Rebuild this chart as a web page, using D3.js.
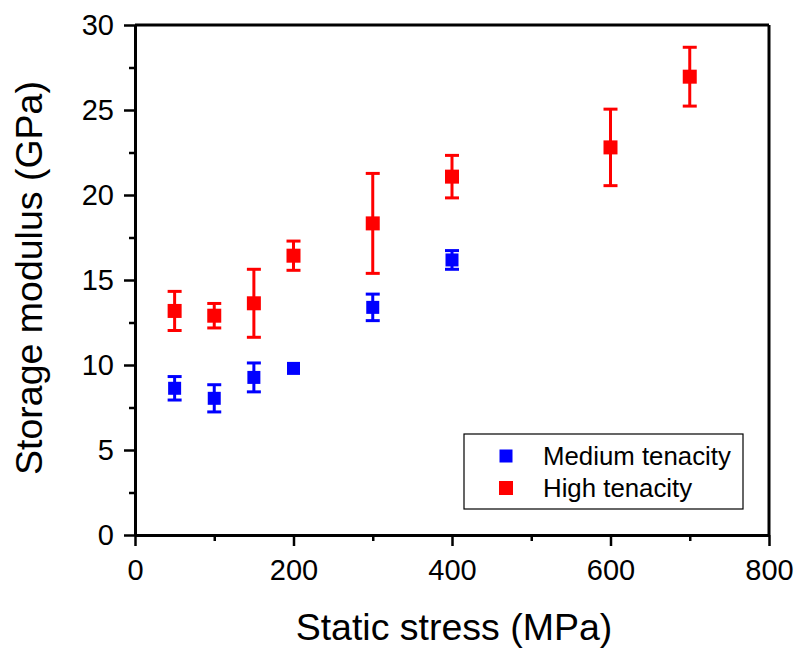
<!DOCTYPE html>
<html>
<head>
<meta charset="utf-8">
<script src="https://cdn.jsdelivr.net/npm/d3@7"></script>
<style>
  body { margin: 0; background: #fff; }
  svg text { font-family: "Liberation Sans", Arial, sans-serif; fill: #000; }
</style>
</head>
<body>
<svg id="chart" width="800" height="652"></svg>
<script>
// data
var mediumStress = [50, 100, 150, 200, 300, 400];
var mediumModulus = [8.63, 8.04, 9.27, 9.80, 13.39, 16.18];
var mediumErr = [0.69, 0.80, 0.85, 0, 0.78, 0.55];

var highStress = [50, 100, 150, 200, 300, 400, 600, 700];
var highModulus = [13.18, 12.90, 13.63, 16.43, 18.33, 21.08, 22.80, 26.96];
var highErr = [1.15, 0.72, 2.00, 0.86, 2.94, 1.25, 2.25, 1.73];

var xTicks = [0, 200, 400, 600, 800];
var xMinor = [100, 300, 500, 700];
var yTicks = [0, 5, 10, 15, 20, 25, 30];
var yMinor = [2.5, 7.5, 12.5, 17.5, 22.5, 27.5];

var seriesNames = ["Medium tenacity", "High tenacity"];
var seriesColors = ["#0000ff", "#ff0000"];

var margin = {left: 135, top: 25, right: 31, bottom: 117};
var svg = d3.select("#chart");
var width = 800 - margin.left - margin.right,
    height = 652 - margin.top - margin.bottom;

var x = d3.scaleLinear().domain([0, 800]).range([0, width]);
var y = d3.scaleLinear().domain([0, 30]).range([height, 0]);

var g = svg.append("g").attr("transform", "translate(" + margin.left + "," + margin.top + ")");

// minor ticks
g.append("g").attr("class", "axis")
  .attr("transform", "translate(0," + height + ")")
  .call(d3.axisBottom(x).tickValues(xMinor).tickSize(6).tickSizeOuter(0).tickFormat(""));
g.append("g").attr("class", "axis")
  .call(d3.axisLeft(y).tickValues(yMinor).tickSize(6).tickSizeOuter(0).tickFormat(""));

// major ticks
var xAxis = g.append("g").attr("class", "axis")
  .attr("transform", "translate(0," + height + ")")
  .call(d3.axisBottom(x).tickValues(xTicks).tickSize(11).tickSizeOuter(0).tickPadding(13));
var yAxis = g.append("g").attr("class", "axis")
  .call(d3.axisLeft(y).tickValues(yTicks).tickSize(11).tickSizeOuter(0).tickPadding(10));

g.selectAll(".axis path").attr("stroke", "#000").attr("stroke-width", 3);
g.selectAll(".axis line").attr("stroke", "#000").attr("stroke-width", 2.5);
g.selectAll(".axis text").style("font-size", "29px").attr("fill", "#000");

// frame top and right
g.append("line").attr("x1", 0).attr("x2", width).attr("y1", 0).attr("y2", 0)
  .attr("stroke", "#000").attr("stroke-width", 3);
g.append("line").attr("x1", width).attr("x2", width).attr("y1", 0).attr("y2", height)
  .attr("stroke", "#000").attr("stroke-width", 3);

function drawSeries(xs, ys, errs, color, size) {
  var data = xs.map(function(d, i) { return {x: d, y: ys[i], e: errs[i]}; });
  var eb = g.append("g").selectAll("g").data(data.filter(function(d) { return d.e > 0; }))
    .enter().append("g").attr("stroke", color).attr("stroke-width", 3);
  eb.append("line")
    .attr("x1", function(d) { return x(d.x); }).attr("x2", function(d) { return x(d.x); })
    .attr("y1", function(d) { return y(d.y - d.e); }).attr("y2", function(d) { return y(d.y + d.e); });
  eb.append("line")
    .attr("x1", function(d) { return x(d.x) - 7; }).attr("x2", function(d) { return x(d.x) + 7; })
    .attr("y1", function(d) { return y(d.y + d.e); }).attr("y2", function(d) { return y(d.y + d.e); });
  eb.append("line")
    .attr("x1", function(d) { return x(d.x) - 7; }).attr("x2", function(d) { return x(d.x) + 7; })
    .attr("y1", function(d) { return y(d.y - d.e); }).attr("y2", function(d) { return y(d.y - d.e); });

  g.append("g").selectAll("rect").data(data).enter().append("rect")
    .attr("x", function(d) { return x(d.x) - size / 2; })
    .attr("y", function(d) { return y(d.y) - size / 2; })
    .attr("width", size).attr("height", size)
    .attr("fill", color);
}

drawSeries(mediumStress, mediumModulus, mediumErr, seriesColors[0], 13);
drawSeries(highStress, highModulus, highErr, seriesColors[1], 14);

// axis titles
svg.append("text")
  .attr("x", margin.left + width / 2 + 2).attr("y", 640)
  .attr("text-anchor", "middle").style("font-size", "37.5px")
  .text("Static stress (MPa)");
svg.append("text")
  .attr("transform", "translate(42," + (margin.top + height / 2 - 2) + ") rotate(-90)")
  .attr("text-anchor", "middle").style("font-size", "37.5px")
  .text("Storage modulus (GPa)");

// legend
var legend = svg.append("g").attr("transform", "translate(464,434)");
legend.append("rect").attr("width", 279).attr("height", 75)
  .attr("fill", "#fff").attr("stroke", "#000").attr("stroke-width", 1.2);
var items = legend.selectAll("g.item").data(seriesNames).enter().append("g")
  .attr("class", "item")
  .attr("transform", function(d, i) { return "translate(0," + (22 + i * 32) + ")"; });
items.append("rect")
  .attr("x", function(d, i) { return 42 - (i ? 7 : 6.5); })
  .attr("y", function(d, i) { return -(i ? 7 : 6.5); })
  .attr("width", function(d, i) { return i ? 14 : 13; })
  .attr("height", function(d, i) { return i ? 14 : 13; })
  .attr("fill", function(d, i) { return seriesColors[i]; });
items.append("text")
  .attr("x", 79).attr("y", 9)
  .style("font-size", "25.8px")
  .text(function(d) { return d; });
</script>
</body>
</html>
